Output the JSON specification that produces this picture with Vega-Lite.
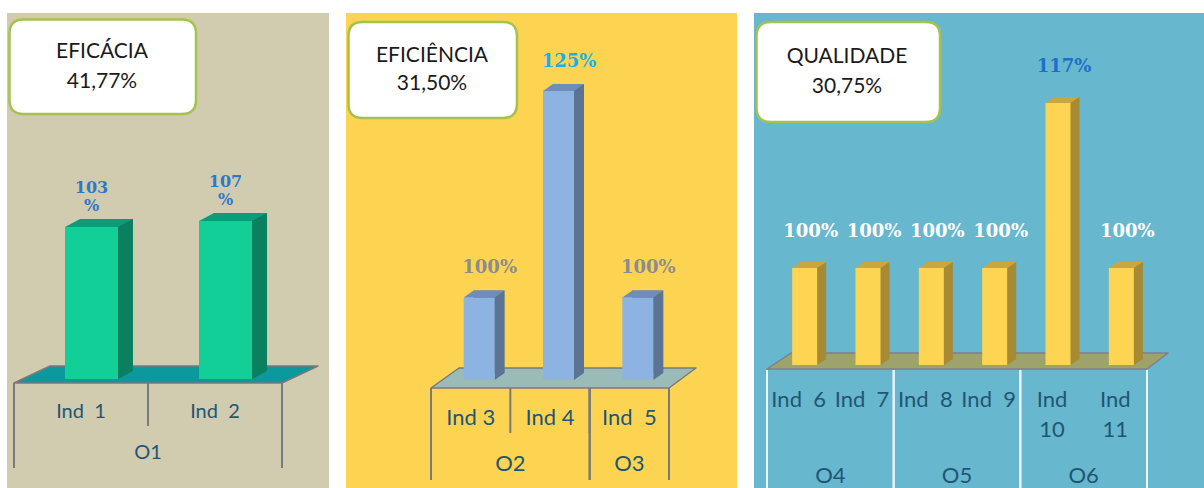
{
  "$schema": "https://vega.github.io/schema/vega-lite/v6.json",
  "background": "#FFFFFF",
  "padding": {"left": 7, "top": 13, "right": 0, "bottom": 0},
  "spacing": 17,
  "bounds": "flush",
  "config": {"view": {"stroke": null}, "font": "Lato"},
  "datasets": {
    "ind": [
      {"dim": "EFICÁCIA", "obj": "O1", "ind": "Ind 1", "name": "Ind \u00a01", "value": 103, "label": "103\n%"},
      {"dim": "EFICÁCIA", "obj": "O1", "ind": "Ind 2", "name": "Ind \u00a02", "value": 107, "label": "107\n%"},
      {"dim": "EFICIÊNCIA", "obj": "O2", "ind": "Ind 3", "name": "Ind 3", "value": 100, "label": "100%"},
      {"dim": "EFICIÊNCIA", "obj": "O2", "ind": "Ind 4", "name": "Ind 4", "value": 125, "label": "125%"},
      {"dim": "EFICIÊNCIA", "obj": "O3", "ind": "Ind 5", "name": "Ind \u00a05", "value": 100, "label": "100%"},
      {"dim": "QUALIDADE", "obj": "O4", "ind": "Ind 6", "name": "Ind \u00a06", "value": 100, "label": "100%"},
      {"dim": "QUALIDADE", "obj": "O4", "ind": "Ind 7", "name": "Ind \u00a07", "value": 100, "label": "100%"},
      {"dim": "QUALIDADE", "obj": "O5", "ind": "Ind 8", "name": "Ind \u00a08", "value": 100, "label": "100%"},
      {"dim": "QUALIDADE", "obj": "O5", "ind": "Ind 9", "name": "Ind \u00a09", "value": 100, "label": "100%"},
      {"dim": "QUALIDADE", "obj": "O6", "ind": "Ind 10", "name": "Ind\n10", "value": 117, "label": "117%"},
      {"dim": "QUALIDADE", "obj": "O6", "ind": "Ind 11", "name": "Ind\n11", "value": 100, "label": "100%"}
    ],
    "grp": [
      {"dim": "EFICÁCIA", "obj": "O1", "first": "Ind 1", "last": "Ind 2", "n": 2},
      {"dim": "EFICIÊNCIA", "obj": "O2", "first": "Ind 3", "last": "Ind 4", "n": 2},
      {"dim": "EFICIÊNCIA", "obj": "O3", "first": "Ind 5", "last": "Ind 5", "n": 1},
      {"dim": "QUALIDADE", "obj": "O4", "first": "Ind 6", "last": "Ind 7", "n": 2},
      {"dim": "QUALIDADE", "obj": "O5", "first": "Ind 8", "last": "Ind 9", "n": 2},
      {"dim": "QUALIDADE", "obj": "O6", "first": "Ind 10", "last": "Ind 11", "n": 2}
    ],
    "dims": [
      {"dim": "EFICÁCIA", "score": "41,77%"},
      {"dim": "EFICIÊNCIA", "score": "31,50%"},
      {"dim": "QUALIDADE", "score": "30,75%"}
    ]
  },
  "hconcat": [
    {
      "width": 322, "height": 475,
      "view": {"fill": "#D1CCB0", "stroke": null},
      "layer": [
        {"data": {"name": "dims"}, "transform": [{"filter": "datum.dim === 'EFICÁCIA'"}],
         "mark": {"type": "point", "shape": "M -1.445 -2.31 L 0.14 -2.31 Q 0.28 -2.31 0.28 -2.17 L 0.28 -1.505 Q 0.28 -1.365 0.14 -1.365 L -1.445 -1.365 Q -1.585 -1.365 -1.585 -1.505 L -1.585 -2.17 Q -1.585 -2.31 -1.445 -2.31 Z", "size": 40000, "filled": true, "fill": "#FFFFFF", "stroke": "#A5C24F", "strokeWidth": 2.5, "strokeJoin": "round", "opacity": 1},
         "encoding": {}},
        {"data": {"name": "dims"}, "transform": [{"filter": "datum.dim === 'EFICÁCIA'"}],
         "mark": {"type": "text", "font": "Lato", "fontSize": 21, "color": "#1A1A1A", "dx": -66, "dy": -198.5},
         "encoding": {"text": {"field": "dim"}}},
        {"data": {"name": "dims"}, "transform": [{"filter": "datum.dim === 'EFICÁCIA'"}],
         "mark": {"type": "text", "font": "Lato", "fontSize": 21, "color": "#1A1A1A", "dx": -66, "dy": -168.5},
         "encoding": {"text": {"field": "score"}}},
        {"data": {"name": "dims"}, "transform": [{"filter": "datum.dim === 'EFICÁCIA'"}],
         "mark": {"type": "point", "shape": "M -1.54 0.04 L 1.14 0.04 L 1.50 -0.13 L -1.18 -0.13 Z", "size": 40000, "filled": true, "fill": "#0A9A9E", "stroke": "#7A7A7A", "strokeWidth": 1.5, "strokeJoin": "round", "opacity": 1},
         "encoding": {"y": {"datum": 0, "type": "quantitative", "scale": {"domain": [0, 103], "range": [366, 214], "zero": false, "nice": false}, "axis": null}}},
        {"data": {"name": "grp"}, "transform": [{"filter": "datum.dim === 'EFICÁCIA'"}],
         "mark": {"type": "rule", "color": "#7A7A7A", "strokeWidth": 2, "yOffset": 4, "y2Offset": 89},
         "encoding": {
           "x": {"field": "first", "type": "nominal", "bandPosition": 0, "scale": {"type": "band", "domain": ["Ind 1", "Ind 2"], "range": [7, 275], "paddingInner": 0, "paddingOuter": 0}, "axis": null},
           "y": {"datum": 0, "type": "quantitative", "scale": {"domain": [0, 103], "range": [366, 214], "zero": false, "nice": false}, "axis": null},
           "y2": {"datum": 0}}},
        {"data": {"name": "grp"}, "transform": [{"filter": "datum.dim === 'EFICÁCIA'"}],
         "mark": {"type": "rule", "color": "#7A7A7A", "strokeWidth": 2, "yOffset": 4, "y2Offset": 89},
         "encoding": {
           "x": {"field": "last", "type": "nominal", "bandPosition": 1, "axis": null},
           "y": {"datum": 0, "type": "quantitative", "axis": null},
           "y2": {"datum": 0}}},
        {"data": {"name": "ind"}, "transform": [{"filter": "datum.dim === 'EFICÁCIA'"}],
         "mark": {"type": "rule", "color": "#7A7A7A", "strokeWidth": 2, "yOffset": 4, "y2Offset": 47},
         "encoding": {
           "x": {"field": "ind", "type": "nominal", "bandPosition": 0, "axis": null},
           "y": {"datum": 0, "type": "quantitative", "axis": null},
           "y2": {"datum": 0}}},
        {"data": {"name": "ind"}, "transform": [{"filter": "datum.dim === 'EFICÁCIA'"}],
         "mark": {"type": "bar", "width": 53, "xOffset": 25.5, "yOffset": -8, "y2Offset": -8, "color": "#0A8060"},
         "encoding": {
           "x": {"field": "ind", "type": "nominal", "axis": null},
           "y": {"field": "value", "type": "quantitative", "axis": null},
           "y2": {"datum": 0}}},
        {"data": {"name": "ind"}, "transform": [{"filter": "datum.dim === 'EFICÁCIA'"}],
         "mark": {"type": "point", "shape": "M 0.37 0 L 0.37 -0.08 L 0.52 -0.08 Z", "size": 40000, "filled": true, "color": "#0A8060", "opacity": 1, "strokeWidth": 0},
         "encoding": {
           "x": {"field": "ind", "type": "nominal", "axis": null},
           "y": {"datum": 0, "type": "quantitative", "axis": null}}},
        {"data": {"name": "ind"}, "transform": [{"filter": "datum.dim === 'EFICÁCIA'"}],
         "mark": {"type": "bar", "width": 53, "xOffset": 10.5, "color": "#12CF98"},
         "encoding": {
           "x": {"field": "ind", "type": "nominal", "axis": null},
           "y": {"field": "value", "type": "quantitative", "axis": null},
           "y2": {"datum": 0}}},
        {"data": {"name": "ind"}, "transform": [{"filter": "datum.dim === 'EFICÁCIA'"}],
         "mark": {"type": "point", "shape": "M -0.16 0 L 0.37 0 L 0.52 -0.08 L -0.01 -0.08 Z", "size": 40000, "filled": true, "color": "#0B9C78", "opacity": 1, "strokeWidth": 0},
         "encoding": {
           "x": {"field": "ind", "type": "nominal", "axis": null},
           "y": {"field": "value", "type": "quantitative", "axis": null}}},
        {"data": {"name": "ind"}, "transform": [{"filter": "datum.dim === 'EFICÁCIA'"}],
         "mark": {"type": "text", "font": "DejaVu Serif", "fontWeight": "bold", "fontSize": 16, "lineBreak": "\n", "lineHeight": 18, "baseline": "middle", "dx": 10.5, "dy": -39, "color": "#2E78C8"},
         "encoding": {
           "x": {"field": "ind", "type": "nominal", "axis": null},
           "y": {"field": "value", "type": "quantitative", "axis": null},
           "text": {"field": "label"}}},
        {"data": {"name": "ind"}, "transform": [{"filter": "datum.dim === 'EFICÁCIA'"}],
         "mark": {"type": "text", "font": "Lato", "fontSize": 20, "baseline": "middle", "dy": 33, "color": "#1F5673"},
         "encoding": {
           "x": {"field": "ind", "type": "nominal", "axis": null},
           "y": {"datum": 0, "type": "quantitative", "axis": null},
           "text": {"field": "name"}}},
        {"data": {"name": "grp"}, "transform": [{"filter": "datum.dim === 'EFICÁCIA' && datum.n === 2"}],
         "mark": {"type": "text", "font": "Lato", "fontSize": 20, "baseline": "middle", "dy": 74, "color": "#1F5673"},
         "encoding": {
           "x": {"field": "first", "type": "nominal", "bandPosition": 1, "axis": null},
           "y": {"datum": 0, "type": "quantitative", "axis": null},
           "text": {"field": "obj"}}}
      ]
    },
    {
      "width": 391, "height": 475,
      "view": {"fill": "#FDD452", "stroke": null},
      "layer": [
        {"data": {"name": "dims"}, "transform": [{"filter": "datum.dim === 'EFICIÊNCIA'"}],
         "mark": {"type": "point", "shape": "M -1.79 -2.285 L -0.385 -2.285 Q -0.245 -2.285 -0.245 -2.145 L -0.245 -1.465 Q -0.245 -1.325 -0.385 -1.325 L -1.79 -1.325 Q -1.93 -1.325 -1.93 -1.465 L -1.93 -2.145 Q -1.93 -2.285 -1.79 -2.285 Z", "size": 40000, "filled": true, "fill": "#FFFFFF", "stroke": "#A5C24F", "strokeWidth": 2.5, "strokeJoin": "round", "opacity": 1},
         "encoding": {}},
        {"data": {"name": "dims"}, "transform": [{"filter": "datum.dim === 'EFICIÊNCIA'"}],
         "mark": {"type": "text", "font": "Lato", "fontSize": 21, "color": "#1A1A1A", "dx": -109.5, "dy": -194.5},
         "encoding": {"text": {"field": "dim"}}},
        {"data": {"name": "dims"}, "transform": [{"filter": "datum.dim === 'EFICIÊNCIA'"}],
         "mark": {"type": "text", "font": "Lato", "fontSize": 21, "color": "#1A1A1A", "dx": -109.5, "dy": -166.5},
         "encoding": {"text": {"field": "score"}}},
        {"data": {"name": "dims"}, "transform": [{"filter": "datum.dim === 'EFICIÊNCIA'"}],
         "mark": {"type": "point", "shape": "M -1.105 0.08 L 1.275 0.08 L 1.545 -0.12 L -0.825 -0.12 Z", "size": 40000, "filled": true, "fill": "#9BBBB9", "stroke": "#7A7A7A", "strokeWidth": 1.5, "strokeJoin": "round", "opacity": 1},
         "encoding": {"y": {"datum": 90, "type": "quantitative", "scale": {"domain": [90, 125], "range": [367, 78], "zero": false, "nice": false}, "axis": null}}},
        {"data": {"name": "grp"}, "transform": [{"filter": "datum.dim === 'EFICIÊNCIA'"}],
         "mark": {"type": "rule", "color": "#7A7A7A", "strokeWidth": 2, "yOffset": 8, "y2Offset": 100},
         "encoding": {
           "x": {"field": "first", "type": "nominal", "bandPosition": 0, "scale": {"type": "band", "domain": ["Ind 3", "Ind 4", "Ind 5"], "range": [85, 323], "paddingInner": 0, "paddingOuter": 0}, "axis": null},
           "y": {"datum": 90, "type": "quantitative", "scale": {"domain": [90, 125], "range": [367, 78], "zero": false, "nice": false}, "axis": null},
           "y2": {"datum": 90}}},
        {"data": {"name": "grp"}, "transform": [{"filter": "datum.dim === 'EFICIÊNCIA'"}],
         "mark": {"type": "rule", "color": "#7A7A7A", "strokeWidth": 2, "yOffset": 8, "y2Offset": 100},
         "encoding": {
           "x": {"field": "last", "type": "nominal", "bandPosition": 1, "axis": null},
           "y": {"datum": 90, "type": "quantitative", "axis": null},
           "y2": {"datum": 90}}},
        {"data": {"name": "ind"}, "transform": [{"filter": "datum.dim === 'EFICIÊNCIA'"}],
         "mark": {"type": "rule", "color": "#7A7A7A", "strokeWidth": 2, "yOffset": 8, "y2Offset": 53},
         "encoding": {
           "x": {"field": "ind", "type": "nominal", "bandPosition": 0, "axis": null},
           "y": {"datum": 90, "type": "quantitative", "axis": null},
           "y2": {"datum": 90}}},
        {"data": {"name": "ind"}, "transform": [{"filter": "datum.dim === 'EFICIÊNCIA'"}],
         "mark": {"type": "bar", "width": 31, "xOffset": 18.5, "yOffset": -7, "y2Offset": -7, "color": "#5B7493"},
         "encoding": {
           "x": {"field": "ind", "type": "nominal", "axis": null},
           "y": {"field": "value", "type": "quantitative", "axis": null},
           "y2": {"datum": 90}}},
        {"data": {"name": "ind"}, "transform": [{"filter": "datum.dim === 'EFICIÊNCIA'"}],
         "mark": {"type": "point", "shape": "M 0.24 0 L 0.24 -0.07 L 0.34 -0.07 Z", "size": 40000, "filled": true, "color": "#5B7493", "opacity": 1, "strokeWidth": 0},
         "encoding": {
           "x": {"field": "ind", "type": "nominal", "axis": null},
           "y": {"datum": 90, "type": "quantitative", "axis": null}}},
        {"data": {"name": "ind"}, "transform": [{"filter": "datum.dim === 'EFICIÊNCIA'"}],
         "mark": {"type": "bar", "width": 31, "xOffset": 8.5, "color": "#8DB3E2"},
         "encoding": {
           "x": {"field": "ind", "type": "nominal", "axis": null},
           "y": {"field": "value", "type": "quantitative", "axis": null},
           "y2": {"datum": 90}}},
        {"data": {"name": "ind"}, "transform": [{"filter": "datum.dim === 'EFICIÊNCIA'"}],
         "mark": {"type": "point", "shape": "M -0.07 0 L 0.24 0 L 0.34 -0.07 L 0.03 -0.07 Z", "size": 40000, "filled": true, "color": "#6E8DB8", "opacity": 1, "strokeWidth": 0},
         "encoding": {
           "x": {"field": "ind", "type": "nominal", "axis": null},
           "y": {"field": "value", "type": "quantitative", "axis": null}}},
        {"data": {"name": "ind"}, "transform": [{"filter": "datum.dim === 'EFICIÊNCIA'"}],
         "mark": {"type": "text", "font": "DejaVu Serif", "fontWeight": "bold", "fontSize": 18, "baseline": "middle", "dx": 19, "dy": -29},
         "encoding": {
           "x": {"field": "ind", "type": "nominal", "axis": null},
           "y": {"field": "value", "type": "quantitative", "axis": null},
           "text": {"field": "label"},
           "color": {"condition": {"test": "datum.value > 110", "value": "#1AB0E5"}, "value": "#8C8C8C"}}},
        {"data": {"name": "ind"}, "transform": [{"filter": "datum.dim === 'EFICIÊNCIA'"}],
         "mark": {"type": "text", "font": "Lato", "fontSize": 22, "baseline": "middle", "dy": 38, "color": "#1F5673"},
         "encoding": {
           "x": {"field": "ind", "type": "nominal", "axis": null},
           "y": {"datum": 90, "type": "quantitative", "axis": null},
           "text": {"field": "name"}}},
        {"data": {"name": "grp"}, "transform": [{"filter": "datum.dim === 'EFICIÊNCIA' && datum.n === 2"}],
         "mark": {"type": "text", "font": "Lato", "fontSize": 22, "baseline": "middle", "dy": 84, "color": "#1F5673"},
         "encoding": {
           "x": {"field": "first", "type": "nominal", "bandPosition": 1, "axis": null},
           "y": {"datum": 90, "type": "quantitative", "axis": null},
           "text": {"field": "obj"}}},
        {"data": {"name": "grp"}, "transform": [{"filter": "datum.dim === 'EFICIÊNCIA' && datum.n === 1"}],
         "mark": {"type": "text", "font": "Lato", "fontSize": 22, "baseline": "middle", "dy": 84, "color": "#1F5673"},
         "encoding": {
           "x": {"field": "first", "type": "nominal", "bandPosition": 0.5, "axis": null},
           "y": {"datum": 90, "type": "quantitative", "axis": null},
           "text": {"field": "obj"}}}
      ]
    },
    {
      "width": 450, "height": 475,
      "view": {"fill": "#67B7CE", "stroke": null},
      "layer": [
        {"data": {"name": "dims"}, "transform": [{"filter": "datum.dim === 'QUALIDADE'"}],
         "mark": {"type": "point", "shape": "M -2.085 -2.285 L -0.53 -2.285 Q -0.39 -2.285 -0.39 -2.145 L -0.39 -1.425 Q -0.39 -1.285 -0.53 -1.285 L -2.085 -1.285 Q -2.225 -1.285 -2.225 -1.425 L -2.225 -2.145 Q -2.225 -2.285 -2.085 -2.285 Z", "size": 40000, "filled": true, "fill": "#FFFFFF", "stroke": "#A5C24F", "strokeWidth": 2.5, "strokeJoin": "round", "opacity": 1},
         "encoding": {}},
        {"data": {"name": "dims"}, "transform": [{"filter": "datum.dim === 'QUALIDADE'"}],
         "mark": {"type": "text", "font": "Lato", "fontSize": 21, "color": "#1A1A1A", "dx": -132, "dy": -193.5},
         "encoding": {"text": {"field": "dim"}}},
        {"data": {"name": "dims"}, "transform": [{"filter": "datum.dim === 'QUALIDADE'"}],
         "mark": {"type": "text", "font": "Lato", "fontSize": 21, "color": "#1A1A1A", "dx": -132, "dy": -163.5},
         "encoding": {"text": {"field": "score"}}},
        {"data": {"name": "dims"}, "transform": [{"filter": "datum.dim === 'QUALIDADE'"}],
         "mark": {"type": "point", "shape": "M -2.12 0.04 L 1.68 0.04 L 1.89 -0.12 L -1.88 -0.12 Z", "size": 40000, "filled": true, "fill": "#9CA46C", "stroke": "#7F7F8A", "strokeWidth": 1.5, "strokeJoin": "round", "opacity": 1},
         "encoding": {"y": {"datum": 90, "type": "quantitative", "scale": {"domain": [90, 117], "range": [352, 90], "zero": false, "nice": false}, "axis": null}}},
        {"data": {"name": "grp"}, "transform": [{"filter": "datum.dim === 'QUALIDADE'"}],
         "mark": {"type": "rule", "color": "#EAF6F9", "strokeWidth": 2, "yOffset": 5, "y2Offset": 123},
         "encoding": {
           "x": {"field": "first", "type": "nominal", "bandPosition": 0, "scale": {"type": "band", "domain": ["Ind 6", "Ind 7", "Ind 8", "Ind 9", "Ind 10", "Ind 11"], "range": [13, 393], "paddingInner": 0, "paddingOuter": 0}, "axis": null},
           "y": {"datum": 90, "type": "quantitative", "scale": {"domain": [90, 117], "range": [352, 90], "zero": false, "nice": false}, "axis": null},
           "y2": {"datum": 90}}},
        {"data": {"name": "grp"}, "transform": [{"filter": "datum.dim === 'QUALIDADE'"}],
         "mark": {"type": "rule", "color": "#EAF6F9", "strokeWidth": 2, "yOffset": 5, "y2Offset": 123},
         "encoding": {
           "x": {"field": "last", "type": "nominal", "bandPosition": 1, "axis": null},
           "y": {"datum": 90, "type": "quantitative", "axis": null},
           "y2": {"datum": 90}}},
        {"data": {"name": "ind"}, "transform": [{"filter": "datum.dim === 'QUALIDADE'"}],
         "mark": {"type": "bar", "width": 25, "xOffset": 15, "yOffset": -6, "y2Offset": -6, "color": "#A68A34"},
         "encoding": {
           "x": {"field": "ind", "type": "nominal", "axis": null},
           "y": {"field": "value", "type": "quantitative", "axis": null},
           "y2": {"datum": 90}}},
        {"data": {"name": "ind"}, "transform": [{"filter": "datum.dim === 'QUALIDADE'"}],
         "mark": {"type": "point", "shape": "M 0.185 0 L 0.185 -0.06 L 0.275 -0.06 Z", "size": 40000, "filled": true, "color": "#A68A34", "opacity": 1, "strokeWidth": 0},
         "encoding": {
           "x": {"field": "ind", "type": "nominal", "axis": null},
           "y": {"datum": 90, "type": "quantitative", "axis": null}}},
        {"data": {"name": "ind"}, "transform": [{"filter": "datum.dim === 'QUALIDADE'"}],
         "mark": {"type": "bar", "width": 25, "xOffset": 6, "color": "#FDD552"},
         "encoding": {
           "x": {"field": "ind", "type": "nominal", "axis": null},
           "y": {"field": "value", "type": "quantitative", "axis": null},
           "y2": {"datum": 90}}},
        {"data": {"name": "ind"}, "transform": [{"filter": "datum.dim === 'QUALIDADE'"}],
         "mark": {"type": "point", "shape": "M -0.065 0 L 0.185 0 L 0.275 -0.06 L 0.025 -0.06 Z", "size": 40000, "filled": true, "color": "#C9A73E", "opacity": 1, "strokeWidth": 0},
         "encoding": {
           "x": {"field": "ind", "type": "nominal", "axis": null},
           "y": {"field": "value", "type": "quantitative", "axis": null}}},
        {"data": {"name": "ind"}, "transform": [{"filter": "datum.dim === 'QUALIDADE'"}],
         "mark": {"type": "text", "font": "DejaVu Serif", "fontWeight": "bold", "fontSize": 18, "baseline": "middle", "dx": 12, "dy": -36},
         "encoding": {
           "x": {"field": "ind", "type": "nominal", "axis": null},
           "y": {"field": "value", "type": "quantitative", "axis": null},
           "text": {"field": "label"},
           "color": {"condition": {"test": "datum.value > 110", "value": "#1E6FC8"}, "value": "#FFFFFF"}}},
        {"data": {"name": "ind"}, "transform": [{"filter": "datum.dim === 'QUALIDADE'"}],
         "mark": {"type": "text", "font": "Lato", "fontSize": 22, "baseline": "top", "lineBreak": "\n", "lineHeight": 30, "dy": 25, "color": "#1F5673"},
         "encoding": {
           "x": {"field": "ind", "type": "nominal", "axis": null},
           "y": {"datum": 90, "type": "quantitative", "axis": null},
           "text": {"field": "name"}}},
        {"data": {"name": "grp"}, "transform": [{"filter": "datum.dim === 'QUALIDADE' && datum.n === 2"}],
         "mark": {"type": "text", "font": "Lato", "fontSize": 22, "baseline": "middle", "dy": 111, "color": "#1F5673"},
         "encoding": {
           "x": {"field": "first", "type": "nominal", "bandPosition": 1, "axis": null},
           "y": {"datum": 90, "type": "quantitative", "axis": null},
           "text": {"field": "obj"}}}
      ]
    }
  ]
}
